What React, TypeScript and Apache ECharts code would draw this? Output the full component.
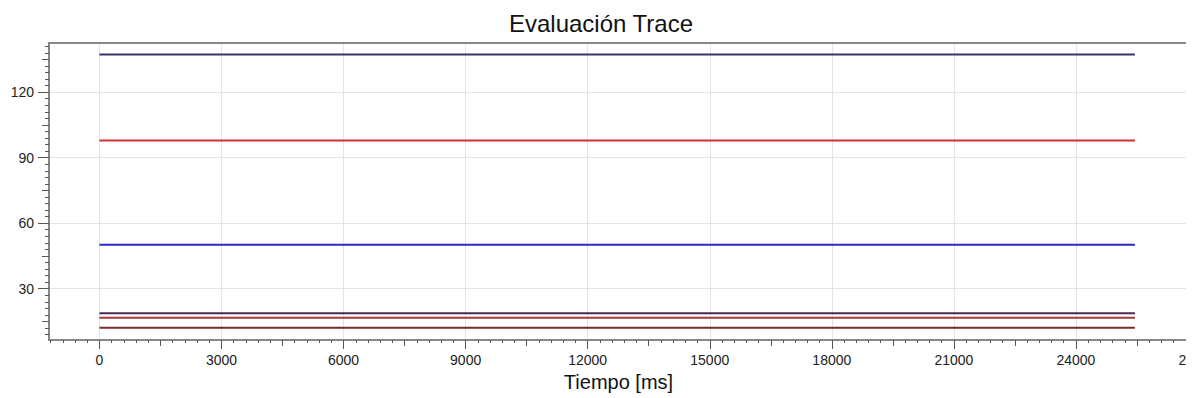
import React, { useEffect, useRef } from "react";
import * as echarts from "echarts";

// ---- data ----
const chartTitle = "Evaluación Trace";
const xAxisName = "Tiempo [ms]";
const xTickValues = [0, 3000, 6000, 9000, 12000, 15000, 18000, 21000, 24000, 27000];
const xMidTickValues = [1500, 4500, 7500, 10500, 13500, 16500, 19500, 22500, 25500];
const yTickValues = [30, 60, 90, 120];
const yMidTickValues = [15, 45, 75, 105, 135];
const xRange = [-1240, 27000];
const yRange = [6.5, 142.5];
const traceTimes = [0, 25450];
const traceNames = ["Trace 1", "Trace 2", "Trace 3", "Trace 4", "Trace 5", "Trace 6"];
const traceLevels = [137.2, 97.9, 50.1, 18.7, 16.7, 12.1];
const traceColors = ["#35356b", "#cc3535", "#2b2bc4", "#4b2a5a", "#a83a3a", "#7d2b2b"];

const FONT = "'Liberation Sans', Arial, sans-serif";
const AXIS_COLOR = "#888888";
const TICK_COLOR = "#555555";
const GRID_COLOR = "#e4e4e4";

const plain = (v: number) => String(v);

export default function App() {
  const ref = useRef<HTMLDivElement>(null);

  useEffect(() => {
    if (!ref.current) return;
    const chart = echarts.init(ref.current, undefined, { renderer: "svg" });

    const series = traceNames.map((name, i) => ({
      name,
      type: "line",
      xAxisIndex: 0,
      yAxisIndex: 0,
      showSymbol: false,
      symbol: "none",
      data: traceTimes.map((t) => [t, traceLevels[i]]),
      lineStyle: { color: traceColors[i], width: 2 },
      itemStyle: { color: traceColors[i] },
    }));

    const option: any = {
      animation: false,
      backgroundColor: "#ffffff",
      title: {
        text: chartTitle,
        left: 596,
        textAlign: "center",
        top: 6,
        textStyle: { fontSize: 24, fontWeight: "normal", color: "#111111", fontFamily: FONT },
      },
      grid: { left: 49, right: -12, top: 43, bottom: 58, containLabel: false, outerBoundsMode: "none" },
      xAxis: [
        {
          type: "value",
          position: "bottom",
          min: xRange[0],
          max: xRange[1],
          splitNumber: 10,
          name: xAxisName,
          nameLocation: "middle",
          nameGap: 27,
          nameTextStyle: { fontSize: 20, color: "#111111", fontFamily: FONT, padding: [0, 10, 0, 0] },
          axisLine: { show: true, onZero: false, lineStyle: { color: AXIS_COLOR, width: 2 } },
          axisTick: { show: true, length: 9, customValues: xTickValues, lineStyle: { color: TICK_COLOR, width: 1 } },
          minorTick: { show: true, splitNumber: 10, length: 3, lineStyle: { color: TICK_COLOR, width: 1 } },
          axisLabel: {
            customValues: xTickValues,
            formatter: plain,
            hideOverlap: false,
            margin: 13,
            fontSize: 14,
            color: "#222222",
            fontFamily: FONT,
          },
          splitLine: { show: true, lineStyle: { color: GRID_COLOR, width: 1 } },
          minorSplitLine: { show: false },
        },
        {
          type: "value",
          position: "bottom",
          min: xRange[0],
          max: xRange[1],
          splitNumber: 10,
          axisLine: { show: false, onZero: false },
          axisTick: { show: true, length: 6, customValues: xMidTickValues, lineStyle: { color: TICK_COLOR, width: 1 } },
          axisLabel: { show: false },
          splitLine: { show: false },
        },
      ],
      yAxis: [
        {
          type: "value",
          position: "left",
          min: yRange[0],
          max: yRange[1],
          splitNumber: 5,
          axisLine: { show: true, onZero: false, lineStyle: { color: AXIS_COLOR, width: 2 } },
          axisTick: { show: true, length: 11, customValues: yTickValues, lineStyle: { color: TICK_COLOR, width: 1 } },
          minorTick: { show: true, splitNumber: 10, length: 4, lineStyle: { color: TICK_COLOR, width: 1 } },
          axisLabel: {
            customValues: yTickValues,
            formatter: plain,
            hideOverlap: false,
            margin: 15,
            fontSize: 14,
            color: "#222222",
            fontFamily: FONT,
          },
          splitLine: { show: true, lineStyle: { color: GRID_COLOR, width: 1 } },
          minorSplitLine: { show: false },
        },
        {
          type: "value",
          position: "left",
          min: yRange[0],
          max: yRange[1],
          splitNumber: 5,
          axisLine: { show: false, onZero: false },
          axisTick: { show: true, length: 7, customValues: yMidTickValues, lineStyle: { color: TICK_COLOR, width: 1 } },
          axisLabel: { show: false },
          splitLine: { show: false },
        },
      ],
      graphic: [
        {
          type: "line",
          shape: { x1: 48, y1: 43, x2: 1186, y2: 43 },
          style: { stroke: AXIS_COLOR, lineWidth: 2 },
          z: 100,
        },
      ],
      series,
    };

    chart.setOption(option);
    return () => chart.dispose();
  }, []);

  return (
    <div
      ref={ref}
      style={{ position: "fixed", left: 0, top: 0, width: 1186, height: 398, background: "#ffffff" }}
    />
  );
}
